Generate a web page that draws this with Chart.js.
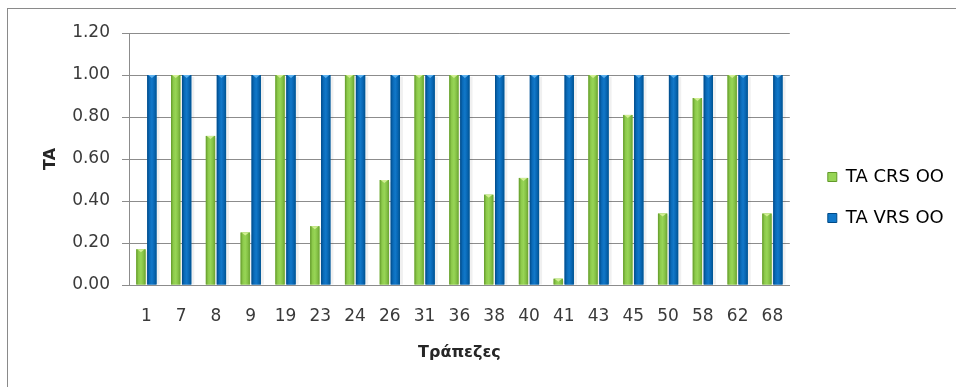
<!DOCTYPE html>
<html>
<head>
<meta charset="utf-8">
<script src="https://cdn.jsdelivr.net/npm/chart.js@4"></script>
<style>
  html, body { margin: 0; padding: 0; background: #ffffff; }
  canvas { display: block; }
</style>
</head>
<body>
<canvas id="chart" width="956" height="387"></canvas>
<script>
// Banks on the x axis
const banks = ['1', '7', '8', '9', '19', '23', '24', '26', '31', '36', '38', '40', '41', '43', '45', '50', '58', '62', '68'];
// Technical efficiency, constant returns to scale
const taCrs = [0.17, 1.00, 0.71, 0.25, 1.00, 0.28, 1.00, 0.50, 1.00, 1.00, 0.43, 0.51, 0.03, 1.00, 0.81, 0.34, 0.89, 1.00, 0.34];
// Technical efficiency, variable returns to scale
const taVrs = [1.00, 1.00, 1.00, 1.00, 1.00, 1.00, 1.00, 1.00, 1.00, 1.00, 1.00, 1.00, 1.00, 1.00, 1.00, 1.00, 1.00, 1.00, 1.00];
// Value axis
const yMin = 0;
const yMax = 1.2;
const yStep = 0.2;

const seriesNames = ['TA CRS OO', 'TA VRS OO'];

Chart.defaults.font.family = "'DejaVu Sans', sans-serif";

// Bar shading: cylinder-like horizontal gradient and a light bevel on top
const shades = [
  { stops: ['#62992a', '#8dca4b', '#97d556', '#86c246', '#6aa332'], top: '#d2ee94' },
  { stops: ['#004a87', '#0a6ab8', '#1178c9', '#0866b3', '#00538f'], top: '#5fb2ee' }
];

const frame = {
  id: 'frame',
  beforeDraw(chart) {
    const ctx = chart.ctx;
    ctx.save();
    ctx.fillStyle = '#ffffff';
    ctx.fillRect(0, 0, chart.width, chart.height);
    ctx.strokeStyle = '#8a8a8a';
    ctx.lineWidth = 1;
    ctx.strokeRect(7.5, 8.5, chart.width + 20, chart.height + 20);
    ctx.restore();
  }
};

const barShade = {
  id: 'barShade',
  beforeDatasetsDraw(chart) {
    const ctx = chart.ctx;
    ctx.save();
    chart.getSortedVisibleDatasetMetas().forEach(meta => {
      meta.data.forEach(el => {
        const { x, y, base, width } = el.getProps(['x', 'y', 'base', 'width'], true);
        const h = base - y;
        if (h <= 0) return;
        ctx.fillStyle = 'rgba(0,0,0,0.06)';
        ctx.fillRect(x + width / 2, y + 2, 3, h - 2);
      });
    });
    ctx.restore();
  },
  afterDatasetsDraw(chart) {
    const ctx = chart.ctx;
    ctx.save();
    chart.getSortedVisibleDatasetMetas().forEach(meta => {
      const shade = shades[meta.index];
      meta.data.forEach(el => {
        const { x, y, base, width } = el.getProps(['x', 'y', 'base', 'width'], true);
        const h = base - y;
        if (h <= 0) return;
        const left = x - width / 2;
        const g = ctx.createLinearGradient(left, 0, left + width, 0);
        shade.stops.forEach((c, i) => g.addColorStop(i / (shade.stops.length - 1), c));
        ctx.fillStyle = g;
        ctx.fillRect(left, y, width, h);
        const th = Math.min(3, h);
        ctx.fillStyle = shade.top;
        ctx.beginPath();
        ctx.moveTo(left + 1, y);
        ctx.lineTo(left + width - 1, y);
        ctx.lineTo(x, y + th);
        ctx.closePath();
        ctx.fill();
      });
    });
    ctx.restore();
  }
};

new Chart(document.getElementById('chart'), {
  type: 'bar',
  data: {
    labels: banks,
    datasets: [
      { label: seriesNames[0], data: taCrs, backgroundColor: '#8dca4b', xAxisID: 'x', yAxisID: 'y' },
      { label: seriesNames[1], data: taVrs, backgroundColor: '#0a6ab8', xAxisID: 'x', yAxisID: 'y' }
    ]
  },
  plugins: [frame, barShade],
  options: {
    responsive: false,
    animation: false,
    devicePixelRatio: 1,
    layout: { padding: { left: 0, top: 33, right: 2, bottom: 25 } },
    datasets: { bar: { categoryPercentage: 0.63, barPercentage: 0.85 } },
    plugins: {
      tooltip: { enabled: false },
      legend: {
        position: 'right',
        align: 'center',
        labels: {
          boxWidth: 9,
          boxHeight: 9,
          padding: 23,
          color: '#3a3a3a',
          font: { size: 18 },
          generateLabels(chart) {
            return chart.data.datasets.map((ds, i) => ({
              text: ds.label,
              fillStyle: shades[i].stops[2],
              strokeStyle: shades[i].stops[0],
              lineWidth: 1,
              hidden: false,
              datasetIndex: i
            }));
          }
        }
      }
    },
    scales: {
      x: {
        grid: { display: false, drawTicks: false },
        border: { display: true, color: '#8c8c8c' },
        ticks: { color: '#3a3a3a', font: { size: 17 }, padding: 21, maxRotation: 0, autoSkip: false },
        title: { display: true, text: 'Τράπεζες', color: '#262626', font: { size: 16, weight: 'bold' }, padding: { top: 0, bottom: 0 } },
        afterFit(scale) { scale.height = 77; }
      },
      y: {
        min: yMin,
        max: yMax,
        grid: { color: '#8c8c8c', tickLength: 7, drawTicks: true },
        border: { display: true, color: '#8c8c8c' },
        ticks: {
          stepSize: yStep,
          color: '#3a3a3a',
          font: { size: 17 },
          padding: 12,
          callback: v => Number(v).toFixed(2)
        },
        title: { display: true, text: 'TA', color: '#262626', font: { size: 16, weight: 'bold' }, padding: { top: 41, bottom: 0 } },
        afterFit(scale) { scale.width = 129; }
      },
      gap: {
        type: 'linear',
        position: 'right',
        display: true,
        grid: { display: false, drawTicks: false },
        border: { display: false },
        ticks: { display: false },
        afterFit(scale) { scale.width = 15; }
      }
    }
  }
});
</script>
</body>
</html>
